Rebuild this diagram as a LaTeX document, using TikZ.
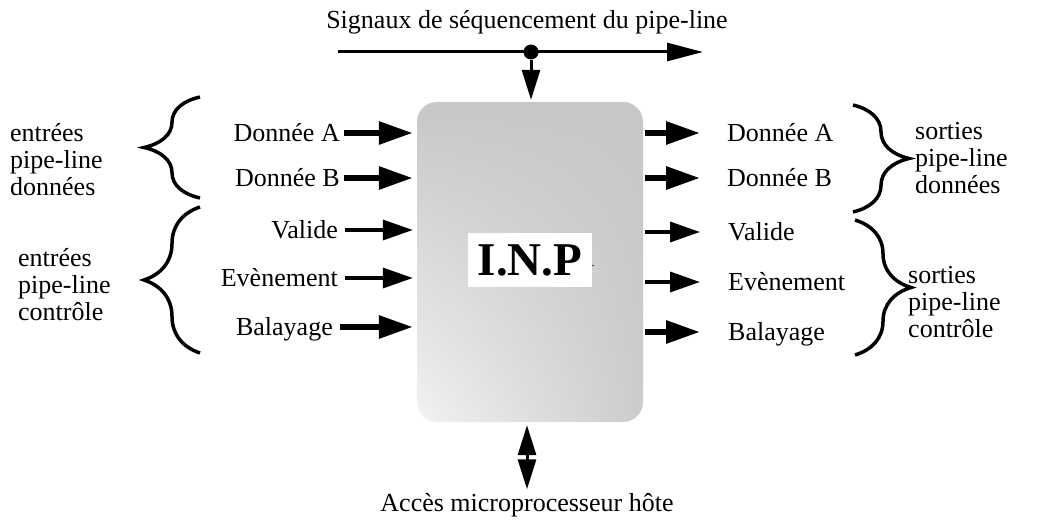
\documentclass[tikz,border=0pt]{standalone}
\usepackage{fontspec}
\setmainfont{Liberation Serif}
\usetikzlibrary{arrows.meta,decorations.pathreplacing,shadings}
\tikzset{
  lbl/.style={inner sep=0pt,text height=17pt,text depth=0pt,font=\fontsize{26}{27}\selectfont},
  grp/.style={inner sep=0pt,align=left,font=\fontsize{26}{27}\selectfont},
  fatarr/.style={line width=6pt,-{Triangle[length=34pt,width=22pt]}},
  thinarr/.style={line width=3.5pt,-{Triangle[length=30pt,width=20pt]}},
  bracepath/.style={line width=3.5pt,decorate,decoration={brace,amplitude=56pt}},
}
\begin{document}
\begin{tikzpicture}[x=1pt,y=-1pt]
  \useasboundingbox (0,0) rectangle (1044,529);
  % Block
  \node[shade,upper left=black!22,upper right=black!22,lower right=black!20,lower left=black!5,
        rounded corners=20pt,minimum width=226pt,minimum height=320pt] (inp) at (530,262) {};
  \node[fill=white,inner sep=0pt,minimum width=124pt,minimum height=54pt,
        font=\fontsize{47}{47}\selectfont\bfseries] (inpname) at (530,260) {I.N.P};
  \node[inner sep=0pt,font=\fontsize{12}{12}\selectfont] (inpdot) at (593,266) {.};
  % Sequencing signals
  \node[lbl] (seqtitle) at (527,20) {Signaux de séquencement du pipe-line};
  \coordinate (seqin) at (338,52);
  \coordinate (seqout) at (703,52);
  \draw[line width=3pt,-{Triangle[length=36pt,width=18pt]}] (seqin) -- (seqout);
  \node[circle,fill,inner sep=0pt,minimum size=15pt] (tap) at (531,52) {};
  \draw[line width=3pt,-{Triangle[length=30pt,width=18pt]},shorten >=2pt] (tap) -- (tap |- inp.north);
  % Inputs
  \node[lbl,anchor=east] (ina) at (340,133) {Donnée A};
  \node[lbl,anchor=east] (inb) at (340,178) {Donnée B};
  \node[lbl,anchor=east] (inval) at (338,230) {Valide};
  \node[lbl,anchor=east] (inevt) at (338,278) {Evènement};
  \node[lbl,anchor=east] (inbal) at (333,327) {Balayage};
  \draw[fatarr,shorten <=4pt,shorten >=4pt] (ina) -- (ina -| inp.west);
  \draw[fatarr,shorten <=4pt,shorten >=4pt] (inb) -- (inb -| inp.west);
  \draw[thinarr,shorten <=7pt,shorten >=4pt] (inval) -- (inval -| inp.west);
  \draw[thinarr,shorten <=7pt,shorten >=4pt] (inevt) -- (inevt -| inp.west);
  \draw[fatarr,shorten <=7pt,shorten >=4pt] (inbal) -- (inbal -| inp.west);
  % Outputs
  \node[lbl,anchor=west] (outa) at (727,133) {Donnée A};
  \node[lbl,anchor=west] (outb) at (727,178) {Donnée B};
  \node[lbl,anchor=west] (outval) at (728,232) {Valide};
  \node[lbl,anchor=west] (outevt) at (728,282) {Evènement};
  \node[lbl,anchor=west] (outbal) at (728,332) {Balayage};
  \draw[fatarr,shorten <=2pt,shorten >=27pt] (outa -| inp.east) -- (outa);
  \draw[fatarr,shorten <=2pt,shorten >=27pt] (outb -| inp.east) -- (outb);
  \draw[thinarr,shorten <=2pt,shorten >=28pt] (outval -| inp.east) -- (outval);
  \draw[thinarr,shorten <=2pt,shorten >=28pt] (outevt -| inp.east) -- (outevt);
  \draw[fatarr,shorten <=2pt,shorten >=28pt] (outbal -| inp.east) -- (outbal);
  % Braces and groups
  \draw[bracepath] (200,198) -- (200,97);
  \draw[bracepath] (200,353) -- (200,207);
  \draw[bracepath] (853,105) -- (853,212);
  \draw[bracepath] (855,220) -- (855,355);
  \node[grp,anchor=west] (indata) at (10,160) {entrées\\pipe-line\\données};
  \node[grp,anchor=west] (inctl) at (18,285) {entrées\\pipe-line\\contrôle};
  \node[grp,anchor=west] (outdata) at (915,158) {sorties\\pipe-line\\données};
  \node[grp,anchor=west] (outctl) at (908,302) {sorties\\pipe-line\\contrôle};
  % Host access
  \node[lbl] (host) at (527,503) {Accès microprocesseur hôte};
  \draw[line width=3pt,{Triangle[length=30pt,width=18pt]}-{Triangle[length=30pt,width=18pt]},
        shorten <=3pt,shorten >=5pt] (host.north |- inp.south) -- (host.north);
\end{tikzpicture}
\end{document}
